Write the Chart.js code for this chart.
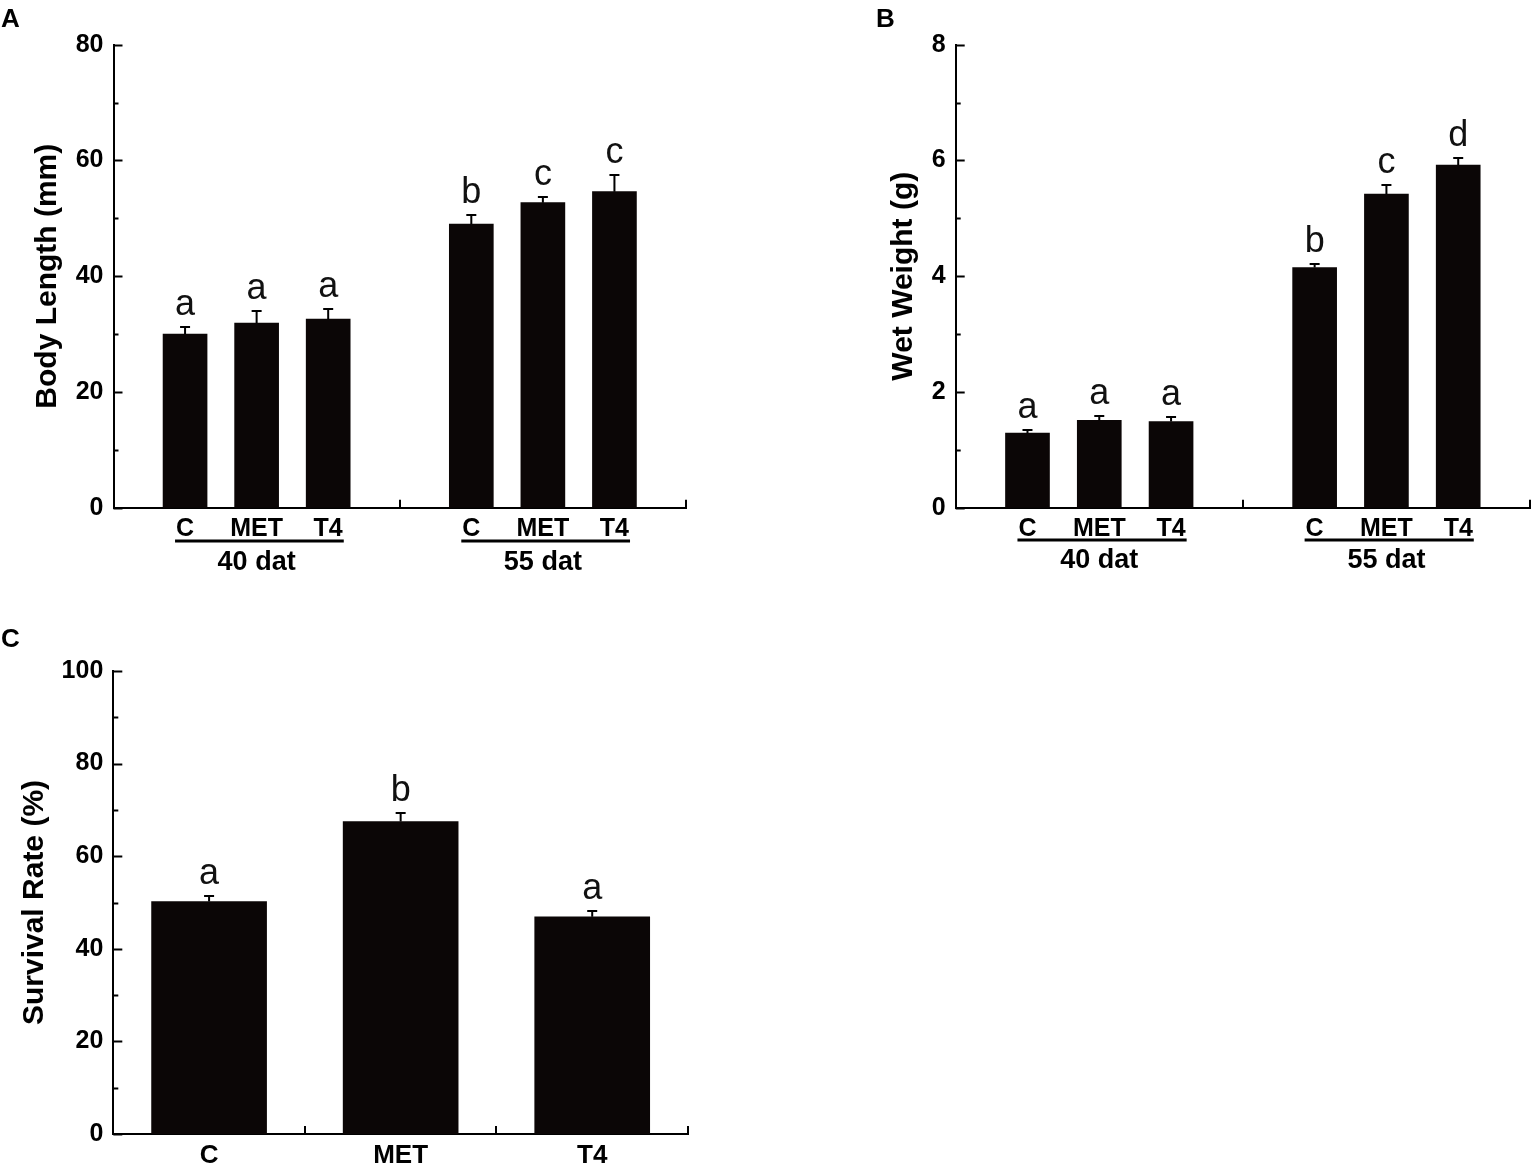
<!DOCTYPE html>
<html>
<head>
<meta charset="utf-8">
<script src="https://cdn.jsdelivr.net/npm/chart.js@4.4.1/dist/chart.umd.min.js"></script>
<style>
  body { margin: 0; background: #fff; width: 1536px; height: 1167px; position: relative; overflow: hidden; }
  canvas { position: absolute; }
</style>
</head>
<body>
<canvas id="chartA" width="720" height="600" style="left:0px;top:0px;width:720px;height:600px"></canvas>
<canvas id="chartB" width="676" height="600" style="left:860px;top:0px;width:676px;height:600px"></canvas>
<canvas id="chartC" width="720" height="547" style="left:0px;top:620px;width:720px;height:547px"></canvas>
<script>
// data
const groups = ['40 dat', '55 dat'];
const treatments = ['C', 'MET', 'T4'];

const lengthMean = [30.0, 31.9, 32.6, 49.0, 52.7, 54.6];
const lengthErr = [1.3, 2.1, 1.7, 1.5, 0.9, 2.8];
const lengthLetters = ['a', 'a', 'a', 'b', 'c', 'c'];
const lengthTicks = [0, 20, 40, 60, 80];

const weightMean = [1.29, 1.51, 1.49, 4.15, 5.42, 5.92];
const weightErr = [0.05, 0.08, 0.07, 0.06, 0.16, 0.13];
const weightLetters = ['a', 'a', 'a', 'b', 'c', 'd'];
const weightTicks = [0, 2, 4, 6, 8];

const survivalMean = [50.2, 67.5, 46.9];
const survivalErr = [1.3, 1.9, 1.3];
const survivalLetters = ['a', 'b', 'a'];
const survivalTicks = [0, 20, 40, 60, 80, 100];

const FONT = "'Liberation Sans', Arial, Helvetica, sans-serif";
const BAR = '#0b0606';

// two groups of three on a 0..8 category axis, empty slots at 0, 4 and 8
function pad(arr) {
    return [null, arr[0], arr[1], arr[2], null, arr[3], arr[4], arr[5], null];
}

let panelPlugin = {
    id: 'panel',
    afterDatasetsDraw(chart, args, opts) {
        let ctx = chart.ctx;
        let y = chart.scales.y;
        let meta = chart.getDatasetMeta(0);
        let data = chart.data.datasets[0].data;
        ctx.save();
        ctx.strokeStyle = '#000';
        ctx.lineWidth = 2;
        ctx.fillStyle = '#111';
        ctx.font = '36px ' + FONT;
        ctx.textAlign = 'center';
        ctx.textBaseline = 'alphabetic';
        meta.data.forEach(function(bar, i) {
            if (data[i] == null) return;
            let top = Math.round(y.getPixelForValue(data[i] + opts.errors[i]));
            ctx.beginPath();
            ctx.moveTo(bar.x, bar.y);
            ctx.lineTo(bar.x, top);
            ctx.moveTo(bar.x - 5, top);
            ctx.lineTo(bar.x + 5, top);
            ctx.stroke();
            ctx.fillText(opts.letters[i], bar.x, top - 12);
        });
        ctx.restore();
    },
    afterDraw(chart, args, opts) {
        let ctx = chart.ctx;
        let x = chart.scales.x;
        let y = chart.scales.y;
        let area = chart.chartArea;
        ctx.save();
        ctx.strokeStyle = '#000';
        ctx.lineWidth = 2;

        // y ticks point inwards, minor ones shorter
        for (let v = y.min; v <= y.max + 1e-9; v += opts.minorStep) {
            let py = Math.round(y.getPixelForValue(v)) + 0.5;
            let r = v / opts.majorStep;
            let len = Math.abs(r - Math.round(r)) < 1e-6 ? 9 : 5;
            ctx.beginPath();
            ctx.moveTo(area.left, py);
            ctx.lineTo(area.left + len, py);
            ctx.stroke();
        }

        // x ticks point up at the group separators
        opts.xTicks(x).forEach(function(px) {
            px = Math.round(px);
            ctx.beginPath();
            ctx.moveTo(px, area.bottom);
            ctx.lineTo(px, area.bottom - 8);
            ctx.stroke();
        });

        // group underline + group name
        if (opts.groups) {
            ctx.font = 'bold 25px ' + FONT;
            let wFirst = ctx.measureText(treatments[0]).width;
            let wLast = ctx.measureText(treatments[2]).width;
            opts.groups.forEach(function(name, g) {
                let i0 = 1 + g * 4;
                let x0 = x.getPixelForValue(i0) - wFirst / 2 - 1;
                let x1 = x.getPixelForValue(i0 + 2) + wLast / 2 + 1;
                ctx.lineWidth = 3;
                ctx.beginPath();
                ctx.moveTo(x0, opts.lineY);
                ctx.lineTo(x1, opts.lineY);
                ctx.stroke();
                ctx.fillStyle = '#000';
                ctx.font = 'bold 27px ' + FONT;
                ctx.textAlign = 'center';
                ctx.textBaseline = 'middle';
                ctx.fillText(name, x.getPixelForValue(i0 + 1), opts.groupY);
                ctx.font = 'bold 25px ' + FONT;
            });
        }

        // axis title
        ctx.fillStyle = '#000';
        ctx.font = 'bold 30px ' + FONT;
        ctx.textAlign = 'center';
        ctx.textBaseline = 'middle';
        ctx.translate(opts.titleX, (area.top + area.bottom) / 2);
        ctx.rotate(-Math.PI / 2);
        ctx.fillText(opts.title, 0, 0);
        ctx.setTransform(1, 0, 0, 1, 0, 0);

        // panel letter
        ctx.font = 'bold 26px ' + FONT;
        ctx.textAlign = 'left';
        ctx.textBaseline = 'top';
        ctx.fillText(opts.panel, opts.panelX, opts.panelY);
        ctx.restore();
    }
};

function makeChart(id, cfg) {
    let ctx = document.getElementById(id).getContext('2d');
    return new Chart(ctx, {
        type: 'bar',
        data: {
            labels: cfg.labels,
            datasets: [{
                data: cfg.data,
                backgroundColor: BAR,
                borderWidth: 0,
                barThickness: cfg.barThickness
            }]
        },
        options: {
            responsive: false,
            animation: false,
            events: [],
            layout: { padding: cfg.padding },
            plugins: {
                legend: { display: false },
                tooltip: { enabled: false },
                panel: cfg.panel
            },
            scales: {
                x: {
                    type: 'category',
                    offset: cfg.offset,
                    grid: { display: false, drawTicks: false },
                    border: { display: true, color: '#000', width: 2 },
                    ticks: {
                        color: '#000',
                        autoSkip: false,
                        maxRotation: 0,
                        padding: cfg.xPad,
                        font: { family: FONT, size: cfg.xFont, weight: 'bold' }
                    },
                    afterFit: function(scale) { scale.height = cfg.xHeight; }
                },
                y: {
                    min: cfg.ticks[0],
                    max: cfg.ticks[cfg.ticks.length - 1],
                    grid: { display: false, drawTicks: false },
                    border: { display: true, color: '#000', width: 2 },
                    afterBuildTicks: function(scale) {
                        scale.ticks = cfg.ticks.map(function(v) { return { value: v }; });
                    },
                    ticks: {
                        color: '#000',
                        padding: 10,
                        font: { family: FONT, size: 25, weight: 'bold' }
                    },
                    afterFit: function(scale) { scale.width = cfg.yWidth; }
                }
            }
        },
        plugins: [panelPlugin]
    });
}

let groupedLabels = [''].concat(treatments, [''], treatments, ['']);

function groupTicks(x) {
    return [x.getPixelForValue(4), x.getPixelForValue(8)];
}

makeChart('chartA', {
    labels: groupedLabels,
    data: pad(lengthMean),
    ticks: lengthTicks,
    barThickness: 44,
    offset: false,
    padding: { left: 0, right: 34, top: 44.7, bottom: 0 },
    yWidth: 113.5,
    xHeight: 92.3,
    xPad: 6,
    xFont: 25,
    panel: {
        errors: pad(lengthErr),
        letters: pad(lengthLetters),
        minorStep: 10,
        majorStep: 20,
        xTicks: groupTicks,
        groups: groups,
        lineY: 541,
        groupY: 563,
        title: 'Body Length (mm)',
        titleX: 48,
        panel: 'A',
        panelX: 1,
        panelY: 7
    }
});

makeChart('chartB', {
    labels: groupedLabels,
    data: pad(weightMean),
    ticks: weightTicks,
    barThickness: 44,
    offset: false,
    padding: { left: 0, right: 6, top: 44.7, bottom: 0 },
    yWidth: 95.7,
    xHeight: 92.3,
    xPad: 6,
    xFont: 25,
    panel: {
        errors: pad(weightErr),
        letters: pad(weightLetters),
        minorStep: 1,
        majorStep: 2,
        xTicks: groupTicks,
        groups: groups,
        lineY: 540,
        groupY: 561,
        title: 'Wet Weight (g)',
        titleX: 43.5,
        panel: 'B',
        panelX: 16,
        panelY: 7
    }
});

makeChart('chartC', {
    labels: treatments,
    data: survivalMean,
    ticks: survivalTicks,
    barThickness: 115,
    offset: true,
    padding: { left: 0, right: 32, top: 51, bottom: 0 },
    yWidth: 113.3,
    xHeight: 33,
    xPad: 6,
    xFont: 26,
    panel: {
        errors: survivalErr,
        letters: survivalLetters,
        minorStep: 10,
        majorStep: 20,
        xTicks: function(x) {
            let p0 = x.getPixelForValue(0), p1 = x.getPixelForValue(1), p2 = x.getPixelForValue(2);
            return [(p0 + p1) / 2, (p1 + p2) / 2, x.right];
        },
        groups: null,
        title: 'Survival Rate (%)',
        titleX: 35,
        panel: 'C',
        panelX: 1,
        panelY: 7
    }
});
</script>
</body>
</html>
